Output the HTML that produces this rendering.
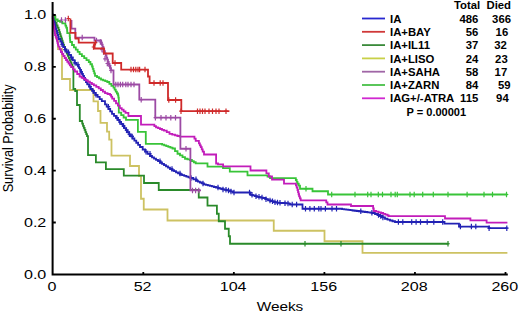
<!DOCTYPE html>
<html><head><meta charset="utf-8"><style>
html,body{margin:0;padding:0;background:#fff;}
svg{display:block;font-family:"Liberation Sans",sans-serif;}
</style></head><body>
<svg width="520" height="314" viewBox="0 0 520 314">
<rect width="520" height="314" fill="#fff"/>
<path d="M52.50 16.00H54.00V27.00H56.00V38.00H58.00V49.00H62.00V79.00H70.00V90.00H93.50V101.30H98.00V111.00H100.50V122.80H107.00V131.70H109.20V139.60H111.50V155.60H130.00V166.00H139.00V176.00H141.00V198.75H143.75V209.50H167.50V220.50H273.75V230.75H324.50V241.25H362.50V252.80H507.40" stroke="#cdc262" stroke-width="1.8" fill="none"/>
<path d="M52.50 16.00H53.52 V18.33H54.53 V20.67H55.55 V23.00H56.57 V25.33H57.58 V27.67H58.60 V30.00H59.27 V32.12H59.95 V34.25H60.62 V36.38H61.30 V38.50H61.98 V40.62H62.65 V42.75H63.33 V44.88H64.00 V47.00H64.94 V49.20H65.88 V51.40H66.82 V53.60H67.76 V55.80H68.70 V58.00H69.64 V60.20H70.58 V62.40H71.52 V64.60H72.46 V66.80H73.40 V69.00V89.00H75.20V91.00H77.00V105.00H79.80V121.00H82.20 V123.70H83.00 V125.78H83.80 V127.87H84.60 V129.95H85.40 V132.03H86.20 V134.12H87.00 V136.20H88.00V155.20H95.90V162.30H105.90V169.20H123.80V175.70H144.00V183.00H158.75V190.00H198.75V197.50H207.50V205.60H216.90V213.75H218.75V221.25H225.00V228.75H228.75V236.25H230.00V243.75H448.50" stroke="#2a8a2a" stroke-width="1.8" fill="none"/>
<path d="M305.00 241.00V246.50M303.20 243.75H306.80M341.00 241.00V246.50M339.20 243.75H342.80M448.00 241.00V246.50M446.20 243.75H449.80" stroke="#2a8a2a" stroke-width="1.2" fill="none"/>
<path d="M52.60 14.50H52.90 V16.25H53.20 V18.00H53.72 V20.20H54.24 V22.40H54.76 V24.60H55.28 V26.80H55.80 V29.00H56.43 V31.00H57.07 V33.00H57.70 V35.00H58.20 V37.00H58.70 V39.00H60.30 V41.50H61.75 V44.25H63.20 V47.00H64.95 V49.65H66.70 V52.30H68.85 V54.90H71.00 V57.50H72.80 V60.15H74.60 V62.80H76.30 V64.55H78.00 V66.30H79.00 V68.05H80.00 V69.80H80.98 V71.83H81.97 V73.87H82.95 V75.90H83.93 V77.93H84.92 V79.97H85.90 V82.00H87.50 V84.33H89.10 V86.67H90.70 V89.00H92.30 V90.93H93.90 V92.87H95.50 V94.80H97.60 V96.93H99.70 V99.07H101.80 V101.20H105.00 V104.40H106.70 V106.70H108.40 V109.00H110.20 V111.40H112.00 V113.80H114.00 V115.87H116.00 V117.93H118.00 V120.00H119.57 V122.00H121.13 V124.00H122.70 V126.00H124.33 V128.08H125.97 V130.17H127.60 V132.25H129.23 V134.33H130.87 V136.42H132.50 V138.50H134.38 V140.62H136.25 V142.75H138.12 V144.88H140.00 V147.00H142.70 V149.50H145.13 V151.67H147.57 V153.83H150.00 V156.00H152.00 V157.30H154.00 V158.60H156.00 V159.90H158.00 V161.20H160.00 V162.50H162.00 V163.80H164.00 V165.10H166.00 V166.40H168.00 V167.70H170.00 V169.00H172.00 V170.10H174.00 V171.20H176.00 V172.30H178.00 V173.40H180.00 V174.50H182.12 V175.20H184.24 V175.90H186.36 V176.60H188.48 V177.30H190.60 V178.00H193.30 V179.30H196.00 V180.60H197.94 V181.55H199.88 V182.50H201.81 V183.45H203.75 V184.40H205.79 V184.92H207.83 V185.43H209.88 V185.95H211.92 V186.47H213.96 V186.98H216.00 V187.50H218.17 V188.13H220.33 V188.77H222.50 V189.40H224.40 V189.77H226.30 V190.13H228.20 V190.50H230.60 V191.50H233.00 V192.50H247.30H250.50 V194.80H252.63 V195.47H254.77 V196.13H256.90 V196.80H259.00 V197.20H261.10 V197.60H263.20 V198.00H265.60 V199.20H268.00 V200.40H270.40 V201.20H272.80 V202.00H274.93 V202.27H277.07 V202.53H279.20 V202.80H281.57 V203.00H283.95 V203.20H286.32 V203.40H288.70 V203.60H290.00 V204.50H302.50V208.75H340.00H342.08 V209.04H344.17 V209.33H346.25 V209.62H348.33 V209.92H350.42 V210.21H352.50 V210.50H354.58 V210.75H356.67 V211.00H358.75 V211.25H360.83 V211.50H362.92 V211.75H365.00 V212.00H367.50 V212.33H370.00 V212.67H372.50 V213.00H375.00 V214.00H377.50 V215.00H380.00 V216.00H382.50 V217.38H385.00 V218.75H387.50 V219.62H390.00 V220.50H392.50 V221.25H395.00 V222.00H444.50V223.60H459.00V226.60H489.00V228.20H507.40" stroke="#2222b4" stroke-width="1.8" fill="none"/>
<path d="M62.00 41.50V47.00M60.20 44.25H63.80M65.00 46.90V52.40M63.20 49.65H66.80M68.50 49.55V55.05M66.70 52.30H70.30M71.50 54.75V60.25M69.70 57.50H73.30M75.00 60.05V65.55M73.20 62.80H76.80M78.00 61.80V67.30M76.20 64.55H79.80M81.00 69.08V74.58M79.20 71.83H82.80M84.00 75.18V80.68M82.20 77.93H85.80M87.00 79.25V84.75M85.20 82.00H88.80M90.00 83.92V89.42M88.20 86.67H91.80M93.00 88.18V93.68M91.20 90.93H94.80M96.00 92.05V97.55M94.20 94.80H97.80M108.40 103.95V109.45M106.60 106.70H110.20M117.00 115.18V120.68M115.20 117.93H118.80M119.80 119.25V124.75M118.00 122.00H121.60M123.60 123.25V128.75M121.80 126.00H125.40M126.50 127.42V132.92M124.70 130.17H128.30M129.40 131.58V137.08M127.60 134.33H131.20M132.20 133.67V139.17M130.40 136.42H134.00M146.00 148.92V154.42M144.20 151.67H147.80M150.00 151.08V156.58M148.20 153.83H151.80M160.00 158.45V163.95M158.20 161.20H161.80M172.00 166.25V171.75M170.20 169.00H173.80M180.00 170.65V176.15M178.20 173.40H181.80M191.00 175.25V180.75M189.20 178.00H192.80M196.00 176.55V182.05M194.20 179.30H197.80M203.00 180.70V186.20M201.20 183.45H204.80M218.00 184.75V190.25M216.20 187.50H219.80M223.00 186.65V192.15M221.20 189.40H224.80M226.00 187.02V192.52M224.20 189.77H227.80M228.50 187.75V193.25M226.70 190.50H230.30M231.00 188.75V194.25M229.20 191.50H232.80M234.00 189.75V195.25M232.20 192.50H235.80M249.50 189.75V195.25M247.70 192.50H251.30M252.00 192.05V197.55M250.20 194.80H253.80M256.00 193.38V198.88M254.20 196.13H257.80M259.00 194.05V199.55M257.20 196.80H260.80M262.00 194.85V200.35M260.20 197.60H263.80M266.00 196.45V201.95M264.20 199.20H267.80M270.00 197.65V203.15M268.20 200.40H271.80M272.50 198.45V203.95M270.70 201.20H274.30M275.00 199.52V205.02M273.20 202.27H276.80M277.50 199.78V205.28M275.70 202.53H279.30M280.00 200.05V205.55M278.20 202.80H281.80M285.00 200.45V205.95M283.20 203.20H286.80M288.00 200.65V206.15M286.20 203.40H289.80M292.20 201.75V207.25M290.40 204.50H294.00M296.60 201.75V207.25M294.80 204.50H298.40M305.50 206.00V211.50M303.70 208.75H307.30M309.90 206.00V211.50M308.10 208.75H311.70M314.30 206.00V211.50M312.50 208.75H316.10M318.80 206.00V211.50M317.00 208.75H320.60M321.00 206.00V211.50M319.20 208.75H322.80M325.40 206.00V211.50M323.60 208.75H327.20M332.00 206.00V211.50M330.20 208.75H333.80M336.50 206.00V211.50M334.70 208.75H338.30M360.80 208.50V214.00M359.00 211.25H362.60M371.90 209.92V215.42M370.10 212.67H373.70M378.50 212.25V217.75M376.70 215.00H380.30M380.70 213.25V218.75M378.90 216.00H382.50M382.90 214.63V220.13M381.10 217.38H384.70M398.40 219.25V224.75M396.60 222.00H400.20M402.80 219.25V224.75M401.00 222.00H404.60M411.70 219.25V224.75M409.90 222.00H413.50M416.10 219.25V224.75M414.30 222.00H417.90M420.50 219.25V224.75M418.70 222.00H422.30M427.20 219.25V224.75M425.40 222.00H429.00M433.80 219.25V224.75M432.00 222.00H435.60M442.70 219.25V224.75M440.90 222.00H444.50M460.40 223.85V229.35M458.60 226.60H462.20M471.40 223.85V229.35M469.60 226.60H473.20M475.80 223.85V229.35M474.00 226.60H477.60M489.10 225.45V230.95M487.30 228.20H490.90M506.80 225.45V230.95M505.00 228.20H508.60" stroke="#2222b4" stroke-width="1.2" fill="none"/>
<path d="M52.60 16.50H55.40 V19.50H57.70 V21.00H60.00 V21.80H62.30 V23.40H65.40 V25.70H66.20 V27.60H67.00 V29.50H67.15 V31.35H67.30 V33.20H69.70 V36.00H69.87 V38.00H70.03 V40.00H70.20 V42.00H72.00 V45.00H73.90 V47.30H75.80 V49.60H77.70 V51.90H79.60 V54.20H81.90 V56.15H84.20 V58.10H86.50 V60.05H88.80 V62.00H90.40 V64.25H92.00 V66.50H92.75 V68.83H93.50 V71.15H94.25 V73.47H95.00 V75.80H97.00 V77.07H99.00 V78.33H101.00 V79.60H103.10 V80.40H105.20 V81.20H107.30 V82.00H109.37 V83.90H111.43 V85.80H113.50 V87.70H114.62 V89.62H115.75 V91.55H116.88 V93.48H118.00 V95.40H118.40 V97.70H118.80 V100.00V112.70H121.20 V115.10H123.60 V117.50H126.00 V119.90H137.90V131.80H145.80V143.80H160.00H162.08 V144.58H164.17 V145.37H166.25 V146.15H168.33 V146.93H170.42 V147.72H172.50 V148.50H175.00 V151.12H177.50 V153.75H180.00 V155.42H182.50 V157.08H185.00 V158.75H187.50 V159.38H190.00 V160.00H191.90 V161.13H193.80 V162.27H195.70 V163.40H207.50V166.70H223.00V168.20H229.80V171.70H247.50V175.40H267.50V176.50H270.00V178.10H295.00H295.83 V179.98H296.67 V181.87H297.50 V183.75H298.75 V185.62H300.00 V187.50V188.75H312.50V191.25H328.00V194.50H507.40" stroke="#38c438" stroke-width="1.8" fill="none"/>
<path d="M306.00 186.00V191.50M304.20 188.75H307.80M331.70 191.75V197.25M329.90 194.50H333.50M355.00 191.75V197.25M353.20 194.50H356.80M367.70 191.75V197.25M365.90 194.50H369.50M371.00 191.75V197.25M369.20 194.50H372.80M378.30 191.75V197.25M376.50 194.50H380.10M382.50 191.75V197.25M380.70 194.50H384.30M391.00 191.75V197.25M389.20 194.50H392.80M395.20 191.75V197.25M393.40 194.50H397.00M397.30 191.75V197.25M395.50 194.50H399.10M410.00 191.75V197.25M408.20 194.50H411.80M414.20 191.75V197.25M412.40 194.50H416.00M422.70 191.75V197.25M420.90 194.50H424.50M433.30 191.75V197.25M431.50 194.50H435.10M448.00 191.75V197.25M446.20 194.50H449.80M467.10 191.75V197.25M465.30 194.50H468.90M484.00 191.75V197.25M482.20 194.50H485.80M492.50 191.75V197.25M490.70 194.50H494.30M506.50 191.75V197.25M504.70 194.50H508.30" stroke="#38c438" stroke-width="1.2" fill="none"/>
<path d="M52.60 16.00H52.73 V18.00H52.87 V20.00H53.00 V22.00H53.33 V24.17H53.67 V26.33H54.00 V28.50H54.33 V30.67H54.67 V32.83H55.00 V35.00H55.75 V36.95H56.50 V38.90H56.98 V40.83H57.45 V42.75H57.92 V44.67H58.40 V46.60H59.65 V49.30H60.90 V52.00H62.10 V54.00H63.30 V56.00H64.65 V58.00H66.00 V60.00H67.30 V61.75H68.60 V63.50H69.85 V65.35H71.10 V67.20H72.95 V69.35H74.80 V71.50H77.20 V74.00H79.60 V76.50H81.70 V77.83H83.80 V79.17H85.90 V80.50H87.90 V81.70H89.90 V82.90H91.90 V84.10H93.90 V85.30H96.30 V86.85H98.70 V88.40H100.80 V90.00H102.90 V91.60H105.00 V93.20H107.50 V94.00H110.00 V94.80H111.10 V96.70H112.20 V98.60H114.10 V100.97H116.00 V103.35H117.90 V105.72H119.80 V108.10H121.70 V109.70H123.60 V111.30H125.50 V112.90H128.40 V116.00H141.00V124.70H152.70H154.35 V126.05H156.00 V127.40H158.00 V128.20H160.00 V129.00H162.00 V129.80H164.00 V130.60H166.75 V132.20H169.50 V133.80H172.25 V134.60H175.00 V135.40H177.40 V136.00H179.80 V136.60H193.20H194.45 V138.70H195.70 V140.80H198.90 V143.40H199.85 V145.30H200.80 V147.20H201.75 V149.45H202.70 V151.70H204.00 V154.50H216.10V163.50H218.00V164.40H223.10V166.30H250.50V170.50H264.80H266.40 V173.30H268.80 V176.50H272.00 V178.90V179.70H281.60H284.00 V182.10V183.70H293.50H295.90 V185.30H296.70 V187.65H297.50 V190.00H298.03 V192.13H298.57 V194.27H299.10 V196.40H299.90 V198.40H300.70 V200.40H325.00H326.25 V202.45H327.50 V204.50H350.00H351.00 V206.00H372.50H373.12 V208.50H373.75 V211.00H376.17 V211.67H378.58 V212.33H381.00 V213.00H383.17 V213.83H385.33 V214.67H387.50 V215.50H388.75 V216.20H445.00V218.50H470.40V220.30H486.60V222.60H507.40" stroke="#c21cba" stroke-width="1.8" fill="none"/>
<path d="M71.50 20.00V28.60H75.30V37.60H94.50V40.50H100.40H101.16 V42.64H101.91 V44.77H102.67 V46.91H103.43 V49.04H104.19 V51.18H104.94 V53.31H105.70 V55.45H106.46 V57.59H107.21 V59.72H107.97 V61.86H108.73 V63.99H109.49 V66.13H110.24 V68.26H111.00 V70.40H113.50V84.50H139.30V99.70H155.30V117.70H180.40V148.75H190.40V190.40H201.00" stroke="#9c4aa4" stroke-width="1.8" fill="none"/>
<path d="M61.50 17.25V22.75M59.70 20.00H63.30M65.40 17.25V22.75M63.60 20.00H67.20M82.20 34.85V40.35M80.40 37.60H84.00M96.50 37.75V43.25M94.70 40.50H98.30M100.40 39.25V44.75M98.60 42.00H102.20M102.00 46.85V52.35M100.20 49.60H103.80M103.50 49.25V54.75M101.70 52.00H105.30M105.00 56.05V61.55M103.20 58.80H106.80M107.30 60.75V66.25M105.50 63.50H109.10M109.60 63.05V68.55M107.80 65.80H111.40M111.00 67.65V73.15M109.20 70.40H112.80M115.80 81.75V87.25M114.00 84.50H117.60M118.00 81.75V87.25M116.20 84.50H119.80M120.40 81.75V87.25M118.60 84.50H122.20M122.70 81.75V87.25M120.90 84.50H124.50M125.80 81.75V87.25M124.00 84.50H127.60M128.00 81.75V87.25M126.20 84.50H129.80M131.00 81.75V87.25M129.20 84.50H132.80M134.00 81.75V87.25M132.20 84.50H135.80M141.20 96.95V102.45M139.40 99.70H143.00M155.40 114.95V120.45M153.60 117.70H157.20M161.00 114.95V120.45M159.20 117.70H162.80M166.00 114.95V120.45M164.20 117.70H167.80M170.80 114.95V120.45M169.00 117.70H172.60M175.50 114.95V120.45M173.70 117.70H177.30M186.00 146.00V151.50M184.20 148.75H187.80M192.50 187.65V193.15M190.70 190.40H194.30M195.60 187.65V193.15M193.80 190.40H197.40M198.75 187.65V193.15M196.95 190.40H200.55" stroke="#9c4aa4" stroke-width="1.2" fill="none"/>
<path d="M70.40 18.50V32.90H75.50V38.50H78.70V42.70H94.50V48.50H104.00V53.50H112.70V63.00H121.20V69.60H148.00V76.50H149.60V83.00H168.00V100.00H181.30V111.20H229.40" stroke="#cf2a2a" stroke-width="1.8" fill="none"/>
<path d="M68.30 15.75V21.25M66.50 18.50H70.10M93.50 44.25V49.75M91.70 47.00H95.30M95.50 39.95V45.45M93.70 42.70H97.30M115.00 60.25V65.75M113.20 63.00H116.80M131.00 66.85V72.35M129.20 69.60H132.80M133.50 66.85V72.35M131.70 69.60H135.30M135.80 66.85V72.35M134.00 69.60H137.60M138.00 66.85V72.35M136.20 69.60H139.80M139.60 66.85V72.35M137.80 69.60H141.40M145.00 66.85V72.35M143.20 69.60H146.80M154.00 80.25V85.75M152.20 83.00H155.80M160.20 80.25V85.75M158.40 83.00H162.00M163.00 80.25V85.75M161.20 83.00H164.80M168.80 97.25V102.75M167.00 100.00H170.60M175.60 97.25V102.75M173.80 100.00H177.40M181.00 108.45V113.95M179.20 111.20H182.80M197.50 108.45V113.95M195.70 111.20H199.30M200.00 108.45V113.95M198.20 111.20H201.80M202.50 108.45V113.95M200.70 111.20H204.30M205.00 108.45V113.95M203.20 111.20H206.80M209.00 108.45V113.95M207.20 111.20H210.80M212.50 108.45V113.95M210.70 111.20H214.30M216.00 108.45V113.95M214.20 111.20H217.80M219.00 108.45V113.95M217.20 111.20H220.80M226.00 108.45V113.95M224.20 111.20H227.80" stroke="#cf2a2a" stroke-width="1.2" fill="none"/>
<path d="M52.60 1.9V274.40H507.8" stroke="#000" stroke-width="2" fill="none"/>
<path d="M52.60 222.52H55.8M52.60 170.64H55.8M52.60 118.76H55.8M52.60 66.88H55.8M52.60 15.00H55.8M143.30 274.40V272M233.85 274.40V272M324.40 274.40V272M414.95 274.40V272M505.50 274.40V272" stroke="#000" stroke-width="1.8" fill="none"/>
<text x="46.3" y="278.8" text-anchor="end" font-size="12" transform="translate(46.3 0) scale(1.340 1) translate(-46.3 0)">0.0</text>
<text x="46.3" y="226.9" text-anchor="end" font-size="12" transform="translate(46.3 0) scale(1.340 1) translate(-46.3 0)">0.2</text>
<text x="46.3" y="175.0" text-anchor="end" font-size="12" transform="translate(46.3 0) scale(1.340 1) translate(-46.3 0)">0.4</text>
<text x="46.3" y="123.2" text-anchor="end" font-size="12" transform="translate(46.3 0) scale(1.340 1) translate(-46.3 0)">0.6</text>
<text x="46.3" y="71.3" text-anchor="end" font-size="12" transform="translate(46.3 0) scale(1.340 1) translate(-46.3 0)">0.8</text>
<text x="46.3" y="19.4" text-anchor="end" font-size="12" transform="translate(46.3 0) scale(1.340 1) translate(-46.3 0)">1.0</text>
<text x="52.05" y="290.6" text-anchor="middle" font-size="12" transform="translate(52.05 0) scale(1.340 1) translate(-52.05 0)">0</text>
<text x="142.60" y="290.6" text-anchor="middle" font-size="12" transform="translate(142.60 0) scale(1.340 1) translate(-142.60 0)">52</text>
<text x="233.15" y="290.6" text-anchor="middle" font-size="12" transform="translate(233.15 0) scale(1.340 1) translate(-233.15 0)">104</text>
<text x="323.70" y="290.6" text-anchor="middle" font-size="12" transform="translate(323.70 0) scale(1.340 1) translate(-323.70 0)">156</text>
<text x="414.25" y="290.6" text-anchor="middle" font-size="12" transform="translate(414.25 0) scale(1.340 1) translate(-414.25 0)">208</text>
<text x="504.80" y="290.6" text-anchor="middle" font-size="12" transform="translate(504.80 0) scale(1.340 1) translate(-504.80 0)">260</text>
<text x="280" y="311.2" text-anchor="middle" font-size="12" transform="translate(280 0) scale(1.28 1) translate(-280 0)">Weeks</text>
<text transform="translate(12.8 138.4) scale(1.2 1) rotate(-90)" text-anchor="middle" font-size="12.7">Survival Probability</text>
<g font-weight="bold" font-size="10.5">
<text x="454" y="9.2" transform="translate(454 0) scale(1.08 1) translate(-454 0)">Total</text>
<text x="486.5" y="9.2" transform="translate(486.5 0) scale(1.08 1) translate(-486.5 0)">Died</text>
<path d="M362 18.5H385" stroke="#2828d0" stroke-width="1.8"/>
<text x="390" y="22.7" transform="translate(390 0) scale(1.08 1) translate(-390 0)">IA</text>
<text x="478.3" y="22.7" text-anchor="end" transform="translate(478.3 0) scale(1.08 1) translate(-478.3 0)">486</text>
<text x="511.0" y="22.7" text-anchor="end" transform="translate(511.0 0) scale(1.08 1) translate(-511.0 0)">366</text>
<path d="M362 31.8H385" stroke="#d03838" stroke-width="1.8"/>
<text x="390" y="36.0" transform="translate(390 0) scale(1.08 1) translate(-390 0)">IA+BAY</text>
<text x="478.3" y="36.0" text-anchor="end" transform="translate(478.3 0) scale(1.08 1) translate(-478.3 0)">56</text>
<text x="508.2" y="36.0" text-anchor="end" transform="translate(508.2 0) scale(1.08 1) translate(-508.2 0)">16</text>
<path d="M362 45.1H385" stroke="#3a8a3a" stroke-width="1.8"/>
<text x="390" y="49.3" transform="translate(390 0) scale(1.08 1) translate(-390 0)">IA+IL11</text>
<text x="478.3" y="49.3" text-anchor="end" transform="translate(478.3 0) scale(1.08 1) translate(-478.3 0)">37</text>
<text x="506.9" y="49.3" text-anchor="end" transform="translate(506.9 0) scale(1.08 1) translate(-506.9 0)">32</text>
<path d="M362 58.4H385" stroke="#c8d048" stroke-width="1.8"/>
<text x="390" y="62.6" transform="translate(390 0) scale(1.08 1) translate(-390 0)">IA+LISO</text>
<text x="478.3" y="62.6" text-anchor="end" transform="translate(478.3 0) scale(1.08 1) translate(-478.3 0)">24</text>
<text x="507.7" y="62.6" text-anchor="end" transform="translate(507.7 0) scale(1.08 1) translate(-507.7 0)">23</text>
<path d="M362 71.7H385" stroke="#a066a6" stroke-width="1.8"/>
<text x="390" y="75.9" transform="translate(390 0) scale(1.08 1) translate(-390 0)">IA+SAHA</text>
<text x="478.3" y="75.9" text-anchor="end" transform="translate(478.3 0) scale(1.08 1) translate(-478.3 0)">58</text>
<text x="507.2" y="75.9" text-anchor="end" transform="translate(507.2 0) scale(1.08 1) translate(-507.2 0)">17</text>
<path d="M362 85.0H385" stroke="#48c048" stroke-width="1.8"/>
<text x="390" y="89.2" transform="translate(390 0) scale(1.08 1) translate(-390 0)">IA+ZARN</text>
<text x="478.3" y="89.2" text-anchor="end" transform="translate(478.3 0) scale(1.08 1) translate(-478.3 0)">84</text>
<text x="510.6" y="89.2" text-anchor="end" transform="translate(510.6 0) scale(1.08 1) translate(-510.6 0)">59</text>
<path d="M362 98.3H385" stroke="#d028d0" stroke-width="1.8"/>
<text x="390" y="102.5" transform="translate(390 0) scale(1.08 1) translate(-390 0)">IAG+/-ATRA</text>
<text x="478.3" y="102.5" text-anchor="end" transform="translate(478.3 0) scale(1.08 1) translate(-478.3 0)">115</text>
<text x="508.7" y="102.5" text-anchor="end" transform="translate(508.7 0) scale(1.08 1) translate(-508.7 0)">94</text>
<text x="406.5" y="116.3" transform="translate(406.5 0) scale(1.053 1) translate(-406.5 0)">P = 0.00001</text>
</g>
</svg>
</body></html>
